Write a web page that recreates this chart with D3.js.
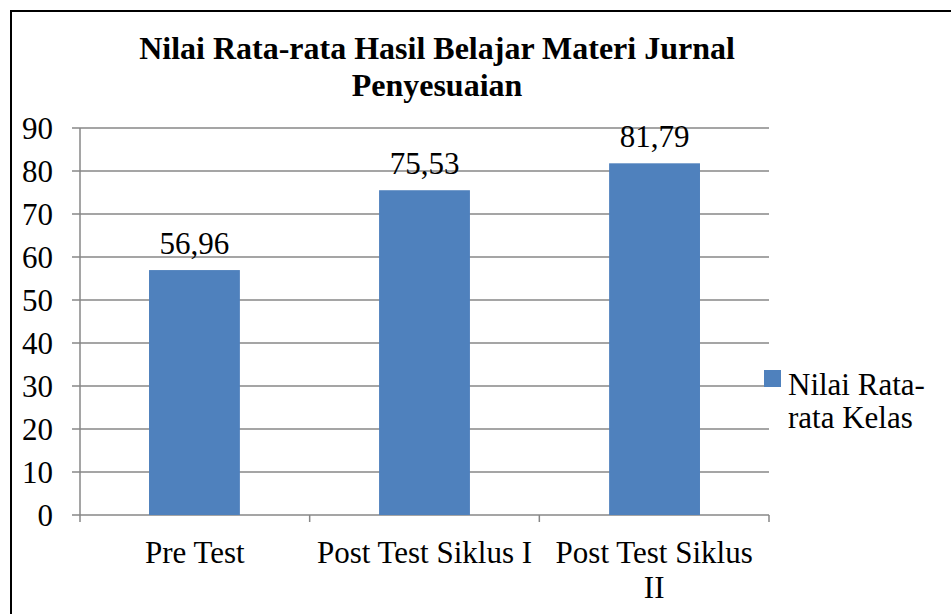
<!DOCTYPE html>
<html>
<head>
<meta charset="utf-8">
<script src="https://cdn.jsdelivr.net/npm/d3@7"></script>
<style>
  body { margin: 0; background: #fff; }
</style>
</head>
<body>
<div id="chart"></div>
<script>
var categories = [["Pre Test"], ["Post Test Siklus I"], ["Post Test Siklus", "II"]];
var values = [56.96, 75.53, 81.79];
var valueLabels = ["56,96", "75,53", "81,79"];
var yTicks = [0, 10, 20, 30, 40, 50, 60, 70, 80, 90];
var titleLines = ["Nilai Rata-rata Hasil Belajar Materi Jurnal", "Penyesuaian"];
var legendLines = ["Nilai Rata-", "rata Kelas"];

var width = 951, height = 614;
var margin = {left: 80, right: 182, top: 128, bottom: 99};
var fs = 31;

var svg = d3.select("#chart").append("svg")
    .attr("width", width)
    .attr("height", height)
    .attr("font-family", "'Liberation Serif', 'DejaVu Serif', serif");

svg.append("rect")
    .attr("x", 11).attr("y", 11)
    .attr("width", width).attr("height", height)
    .attr("fill", "none")
    .attr("stroke", "#000")
    .attr("stroke-width", 2);

var x = d3.scaleBand()
    .domain(d3.range(values.length))
    .range([margin.left, width - margin.right])
    .paddingInner(0.605)
    .paddingOuter(0.3);

var xGroup = d3.scaleBand()
    .domain(d3.range(values.length))
    .range([margin.left, width - margin.right]);

var y = d3.scaleLinear()
    .domain([0, 90])
    .range([height - margin.bottom, margin.top]);

// gridlines
svg.append("g")
    .selectAll("line")
    .data(yTicks)
    .enter()
    .append("line")
    .attr("x1", margin.left - 8)
    .attr("x2", width - margin.right)
    .attr("y1", function(d) { return y(d); })
    .attr("y2", function(d) { return y(d); })
    .attr("stroke", "#878787")
    .attr("stroke-width", 1.5);

// y axis line
svg.append("line")
    .attr("x1", margin.left).attr("x2", margin.left)
    .attr("y1", y(90)).attr("y2", y(0))
    .attr("stroke", "#878787")
    .attr("stroke-width", 1.5);

// y tick labels
svg.append("g")
    .selectAll("text")
    .data(yTicks)
    .enter()
    .append("text")
    .attr("x", 53)
    .attr("y", function(d) { return y(d); })
    .attr("dy", "0.35em")
    .attr("text-anchor", "end")
    .attr("font-size", fs)
    .text(function(d) { return d; });

// category ticks
var boundaries = d3.range(values.length).map(function(i) { return xGroup(i); })
    .concat([width - margin.right]);
svg.append("g")
    .selectAll("line")
    .data(boundaries)
    .enter()
    .append("line")
    .attr("x1", function(d) { return d; })
    .attr("x2", function(d) { return d; })
    .attr("y1", y(0))
    .attr("y2", y(0) + 7)
    .attr("stroke", "#878787")
    .attr("stroke-width", 1.5);

// bars
svg.append("g")
    .selectAll("rect")
    .data(values)
    .enter()
    .append("rect")
    .attr("x", function(d, i) { return x(i); })
    .attr("width", x.bandwidth())
    .attr("y", function(d) { return y(d); })
    .attr("height", function(d) { return y(0) - y(d); })
    .attr("fill", "#4F81BD");

// value labels
svg.append("g")
    .selectAll("text")
    .data(values)
    .enter()
    .append("text")
    .attr("x", function(d, i) { return x(i) + x.bandwidth() / 2; })
    .attr("y", function(d) { return y(d) - 16; })
    .attr("text-anchor", "middle")
    .attr("font-size", fs)
    .text(function(d, i) { return valueLabels[i]; });

// category labels
var cat = svg.append("g")
    .selectAll("text")
    .data(categories)
    .enter()
    .append("text")
    .attr("text-anchor", "middle")
    .attr("font-size", fs);
cat.each(function(lines, i) {
    var t = d3.select(this);
    lines.forEach(function(l, j) {
        t.append("tspan")
            .attr("x", xGroup(i) + xGroup.bandwidth() / 2)
            .attr("y", 563 + j * 35)
            .text(l);
    });
});

// title
svg.append("text")
    .attr("text-anchor", "middle")
    .attr("font-size", 32)
    .attr("font-weight", "bold")
    .selectAll("tspan")
    .data(titleLines)
    .enter()
    .append("tspan")
    .attr("x", 437)
    .attr("y", function(d, i) { return 59 + i * 37; })
    .text(function(d) { return d; });

// legend
svg.append("rect")
    .attr("x", 764).attr("y", 370)
    .attr("width", 17).attr("height", 17)
    .attr("fill", "#4F81BD");

svg.append("text")
    .attr("font-size", fs)
    .selectAll("tspan")
    .data(legendLines)
    .enter()
    .append("tspan")
    .attr("x", 788)
    .attr("y", function(d, i) { return 395 + i * 33; })
    .text(function(d) { return d; });
</script>
</body>
</html>
